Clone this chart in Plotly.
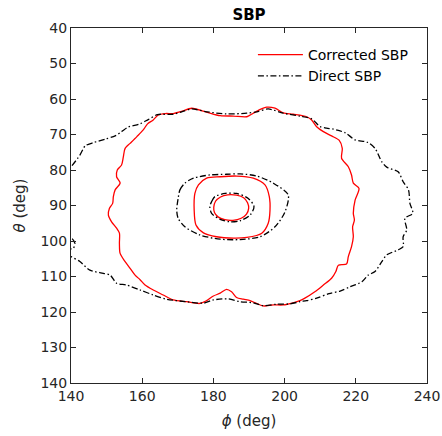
import plotly.graph_objects as go

# ---- Data (phi, theta in degrees) ----
# Direct SBP (black dash-dot) contours
direct_outer_phi = [140.0, 142.5, 144.0, 146.3, 149.6, 152.4, 154.2, 156.1, 159.4, 161.7, 164.3, 168.7, 171.1, 173.9,
                    178.1, 183.7, 189.4, 192.2, 195.4, 199.6, 204.3, 207.6, 210.0, 211.8, 213.7, 217.0, 219.8, 223.3,
                    225.4, 227.3, 228.7, 231.9, 233.3, 234.8, 235.2, 236.0, 233.8, 234.3, 233.3, 233.3, 231.9, 228.7,
                    227.3, 225.4, 223.5, 221.7, 218.4, 215.6, 212.5, 209.0, 206.2, 204.3, 201.5, 197.8, 194.0, 191.2,
                    187.5, 184.2, 180.0, 177.2, 172.5, 166.9, 163.1, 159.4, 155.6, 152.8, 151.0, 149.1, 145.3, 142.5,
                    140.0, 138.0, 139.5, 140.6, 141.1, 140.2, 138.5, 137.0, 138.5, 140.0]
direct_outer_theta = [79.1, 75.8, 73.2, 72.3, 71.3, 70.4, 69.2, 67.9, 67.0, 65.8, 64.4, 64.3, 63.6, 62.8,
                      63.6, 64.2, 64.0, 63.6, 62.8, 64.0, 64.8, 65.6, 67.8, 68.2, 68.5, 69.5, 71.5, 72.2,
                      73.9, 77.7, 79.2, 80.5, 83.3, 85.6, 89.4, 92.2, 93.6, 96.9, 98.8, 101.6, 102.5, 103.9,
                      105.8, 108.6, 109.6, 111.5, 112.9, 114.1, 114.8, 116.1, 116.8, 117.1, 117.7, 117.8, 118.2, 117.4,
                      117.1, 116.3, 116.6, 117.5, 117.1, 116.4, 115.2, 113.8, 112.4, 111.9, 109.6, 109.1, 108.2, 105.8,
                      104.4, 103.5, 102.3, 102.1, 100.7, 99.2, 98.5, 90.0, 80.5, 79.1]

direct_mid_phi = [170.1, 170.6, 172.0, 174.4, 179.0, 183.7, 187.5, 192.2, 196.8, 201.0, 200.1, 197.3, 193.1, 187.5,
                  181.9, 176.2, 172.0, 170.1, 169.7, 170.1]
direct_mid_theta = [88.0, 85.6, 83.7, 82.3, 81.4, 81.2, 81.1, 81.7, 83.7, 87.0, 91.8, 96.0, 98.8, 99.6,
                    99.5, 98.3, 96.0, 93.6, 91.3, 88.0]

direct_inner_phi = [179.0, 179.5, 180.4, 183.3, 186.5, 189.8, 191.4, 190.3, 187.5, 184.7, 181.9, 179.5, 179.0]
direct_inner_theta = [90.3, 88.9, 87.5, 86.6, 86.6, 88.0, 90.3, 92.7, 94.3, 94.6, 93.9, 92.2, 90.3]

# Corrected SBP (red solid) contours
corr_outer_phi = [155.2, 156.6, 158.5, 160.3, 161.5, 163.1, 164.5, 166.5, 168.7, 171.0, 173.9, 178.1, 181.9, 185.6,
                  189.4, 191.2, 193.0, 195.0, 197.3, 199.6, 202.4, 206.2, 207.6, 209.0, 210.9, 213.2, 215.3, 216.2,
                  216.0, 217.9, 218.8, 219.3, 220.9, 219.8, 219.3, 219.6, 219.1, 219.3, 218.8, 217.9, 217.4, 215.1,
                  214.4, 213.2, 210.9, 208.5, 205.7, 204.3, 202.4, 199.6, 196.8, 194.0, 192.2, 190.3, 188.4, 186.5,
                  185.1, 183.7, 181.9, 180.0, 178.1, 176.2, 172.5, 168.7, 165.9, 163.1, 160.8, 159.4, 158.0, 156.6,
                  155.2, 153.8, 153.6, 153.6, 152.8, 151.4, 150.5, 150.8, 151.7, 151.9, 152.4, 153.8, 152.8, 153.0,
                  154.2, 154.7, 155.2]
corr_outer_theta = [73.9, 72.5, 70.6, 68.7, 67.0, 65.9, 64.5, 64.1, 64.1, 63.5, 62.6, 63.7, 64.7, 64.8,
                    65.0, 64.0, 63.0, 62.3, 62.6, 63.9, 64.3, 65.0, 65.9, 67.8, 69.2, 70.4, 71.6, 73.9,
                    76.7, 79.1, 81.4, 83.7, 85.2, 88.5, 92.2, 94.1, 96.0, 98.8, 101.6, 104.4, 106.5, 106.8,
                    108.6, 110.5, 112.4, 114.3, 116.1, 116.8, 117.4, 118.0, 118.0, 118.3, 117.6, 116.8, 116.4, 115.9,
                    114.3, 113.6, 114.7, 115.5, 116.8, 117.6, 117.1, 116.6, 115.2, 113.8, 112.4, 110.9, 109.6, 107.7,
                    105.8, 103.5, 100.7, 97.8, 96.4, 94.6, 92.7, 90.8, 89.4, 87.5, 85.6, 83.7, 81.9, 80.0,
                    78.6, 76.3, 73.9]

corr_mid_phi = [174.6, 174.8, 175.8, 178.1, 181.9, 186.5, 191.2, 194.5, 195.7, 195.9, 195.4, 193.6, 189.4, 185.6,
                180.9, 177.2, 175.1, 174.6]
corr_mid_theta = [91.3, 86.6, 84.2, 82.3, 81.9, 81.7, 82.3, 84.2, 87.5, 91.3, 95.0, 97.8, 99.0, 99.2,
                  98.8, 97.7, 95.5, 91.3]

corr_inner_phi = [180.1, 180.6, 182.0, 184.0, 186.5, 188.5, 189.6, 189.9, 189.3, 187.8, 185.5, 183.2, 181.3, 180.3, 180.1]
corr_inner_theta = [90.5, 88.8, 87.6, 87.0, 87.1, 87.8, 89.2, 90.8, 92.4, 93.6, 94.2, 94.0, 93.2, 92.0, 90.5]

x_ticks = [140, 160, 180, 200, 220, 240]
y_ticks = [40, 50, 60, 70, 80, 90, 100, 110, 120, 130, 140]

fig = go.Figure()

dashdot = "6px,2.5px,1.5px,2.5px"

red_sets = [(corr_outer_phi, corr_outer_theta), (corr_mid_phi, corr_mid_theta), (corr_inner_phi, corr_inner_theta)]
black_sets = [(direct_outer_phi, direct_outer_theta), (direct_mid_phi, direct_mid_theta),
              (direct_inner_phi, direct_inner_theta)]

for i, (px, py) in enumerate(red_sets):
    fig.add_trace(go.Scatter(x=px, y=py, mode="lines", name="Corrected SBP", legendgroup="c",
                             showlegend=(i == 0),
                             line=dict(color="#ff0000", width=1.3, shape="spline", smoothing=0.8)))
for i, (px, py) in enumerate(black_sets):
    fig.add_trace(go.Scatter(x=px, y=py, mode="lines", name="Direct SBP", legendgroup="d",
                             showlegend=(i == 0),
                             line=dict(color="#000000", width=1.3, dash=dashdot, shape="spline", smoothing=0.8)))

axis_common = dict(showline=True, linecolor="#262626", linewidth=1, mirror="ticks", ticks="inside",
                   ticklen=5, tickcolor="#262626", showgrid=False, zeroline=False, automargin=False,
                   tickfont=dict(family="DejaVu Sans", size=14, color="#262626"))

ML, MT, MR, MB = 71, 28, 15, 53
W, H = 442, 436

fig.update_layout(
    width=W, height=H,
    margin=dict(l=ML, r=MR, t=MT, b=MB),
    paper_bgcolor="white", plot_bgcolor="white",
    title=dict(text="<b>SBP</b>", x=249 / W, xanchor="center", y=1 - 15 / H, yanchor="middle",
               font=dict(family="DejaVu Sans", size=15, color="#000000")),
    xaxis=dict(range=[140, 240], tickvals=x_ticks, ticktext=[str(v) for v in x_ticks],
               title=dict(text="<i>ϕ</i> (deg)", standoff=12,
                          font=dict(family="DejaVu Sans", size=15, color="#262626")),
               **axis_common),
    yaxis=dict(range=[140, 40], tickvals=y_ticks, ticktext=[str(v) for v in y_ticks],
               title=dict(text="<i>θ</i> (deg)", standoff=11,
                          font=dict(family="DejaVu Sans", size=15, color="#262626")),
               **axis_common),
    legend=dict(x=0.511, y=0.969, xanchor="left", yanchor="top", bgcolor="rgba(0,0,0,0)",
                font=dict(family="DejaVu Sans", size=14, color="#000000"), tracegroupgap=0,
                itemwidth=45),
    showlegend=True,
)

# Remove the default page body margin so the figure sits at the window's top-left corner.
fig.write_html("out.html", config={"displayModeBar": False},
               post_script="document.body.style.margin='0';")
